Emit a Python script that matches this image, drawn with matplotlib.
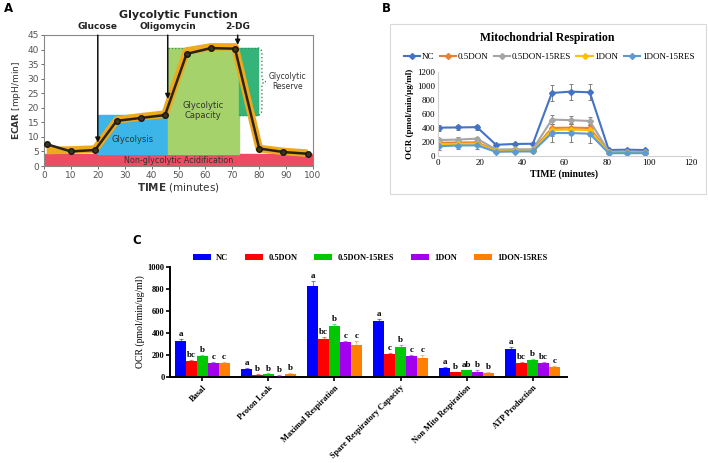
import numpy as np
import matplotlib
matplotlib.use('Agg')
import matplotlib.pyplot as plt
from matplotlib.patches import Rectangle
from matplotlib.path import Path
from matplotlib.patches import PathPatch
from matplotlib.lines import Line2D

# ---------------- data ----------------
# A: glycolytic function (schematic)
a_time = [1, 10, 19, 27, 36, 45, 53, 62, 71, 80, 89, 98]
a_ecar = [7.5, 5.0, 5.5, 15.5, 16.5, 17.5, 38.5, 40.5, 40.3, 6.0, 4.8, 4.2]
a_trend = [5.3, 5.5, 5.8, 15.8, 16.9, 17.8, 39.5, 40.9, 40.9, 6.0, 5.0, 4.4]
a_injections = ['Glucose', 'Oligomycin', '2-DG']
a_inj_time = [20, 46, 72]
a_inj_tip = [8, 23, 41.6]

# B: mitochondrial respiration
b_time = [0.5, 9.5, 18.5, 27.5, 36.5, 45, 54, 63, 72, 81, 89.5, 98]
b_names = ['NC', '0.5DON', '0.5DON-15RES', '1DON', '1DON-15RES']
b_values = {
    'NC': [405, 408, 412, 160, 172, 175, 900, 920, 910, 85, 90, 85],
    '0.5DON': [190, 192, 196, 75, 80, 82, 400, 405, 400, 52, 52, 50],
    '0.5DON-15RES': [228, 235, 248, 92, 96, 96, 520, 512, 500, 62, 62, 60],
    '1DON': [168, 172, 178, 70, 74, 75, 372, 378, 370, 46, 46, 45],
    '1DON-15RES': [140, 150, 152, 60, 64, 65, 328, 328, 318, 40, 40, 40],
}
b_errors = {
    'NC': [45, 35, 35, 15, 15, 15, 120, 115, 115, 10, 10, 10],
    '0.5DON': [35, 35, 35, 15, 15, 15, 60, 60, 60, 10, 10, 10],
    '0.5DON-15RES': [30, 30, 30, 15, 15, 15, 65, 60, 55, 10, 10, 10],
    '1DON': [40, 40, 40, 15, 15, 15, 80, 80, 80, 10, 10, 10],
    '1DON-15RES': [55, 55, 50, 20, 20, 20, 130, 130, 130, 10, 10, 10],
}
b_colors = ['#4472C4', '#ED7D31', '#A5A5A5', '#FFC000', '#5B9BD5']

# C: respiration parameters
c_params = ['Basal', 'Proton Leak', 'Maximal Respiration',
            'Spare Respiratory Capacity', 'Non Mito Respiration', 'ATP Production']
c_groups = ['NC', '0.5DON', '0.5DON-15RES', '1DON', '1DON-15RES']
c_values = [
    [330, 75, 830, 505, 85, 255],
    [148, 20, 350, 205, 45, 128],
    [188, 28, 460, 270, 60, 155],
    [130, 12, 315, 190, 50, 128],
    [125, 30, 295, 175, 40, 92],
]
c_errors = [
    [12, 8, 45, 25, 10, 15],
    [8, 4, 18, 15, 5, 10],
    [15, 4, 25, 20, 5, 12],
    [10, 3, 10, 8, 15, 10],
    [10, 5, 35, 25, 5, 10],
]
c_letters = [
    ['a', 'a', 'a', 'a', 'a', 'a'],
    ['bc', 'b', 'bc', 'c', 'b', 'bc'],
    ['b', 'b', 'b', 'b', 'ab', 'b'],
    ['c', 'b', 'c', 'c', 'b', 'bc'],
    ['c', 'b', 'c', 'c', 'b', 'c'],
]
c_colors = ['#0000FF', '#FF0000', '#00C800', '#A400F0', '#FF8000']

SERIF = 'Liberation Serif'
W, H = 708, 463

fig = plt.figure(figsize=(7.08, 4.63), dpi=100)


def box(l, t, r, b):
    return [l / W, 1 - b / H, (r - l) / W, (b - t) / H]


# ---------------- panel A ----------------
axA = fig.add_axes(box(44, 35, 313, 166))
axA.set_xlim(0, 100)
axA.set_ylim(0, 45)
axA.add_patch(Rectangle((0, 0), 100, 4.2, color='#EE4B64', zorder=1))
axA.add_patch(Rectangle((20, 4.2), 26, 13.3, color='#3CB5E8', zorder=1))
axA.add_patch(Rectangle((46, 4.2), 26.5, 36.3, color='#A6D26B', zorder=1))
axA.add_patch(Rectangle((72.5, 17.5), 7, 23, color='#35B47A', zorder=1))
axA.plot([46, 79.5], [40.5, 40.5], ls=':', color='#2f8f5a', lw=0.9, zorder=2)
axA.plot([72.5, 79.5], [17.5, 17.5], ls=':', color='#2f8f5a', lw=0.9, zorder=2)
brace = Path([(79.5, 40.5), (81, 40.5), (81, 38.5), (81, 31),
              (81, 29), (82.5, 29), (81, 29), (81, 27), (81, 19.5),
              (81, 17.5), (79.5, 17.5)],
             [Path.MOVETO, Path.CURVE3, Path.CURVE3, Path.LINETO,
              Path.CURVE3, Path.CURVE3, Path.CURVE3, Path.CURVE3, Path.LINETO,
              Path.CURVE3, Path.CURVE3])
axA.add_patch(PathPatch(brace, fill=False, ls=':', lw=1.0, ec='#2f8f5a', zorder=2))
axA.plot(a_time, a_trend, color='#F0A81C', lw=5.5, solid_capstyle='butt', zorder=3)
axA.plot(a_time, a_ecar, color='#2a2212', lw=1.8, marker='o', ms=4,
         mfc='#3a3420', mec='#1a160c', zorder=4)
axA.text(33, 9, 'Glycolysis', ha='center', va='center', fontsize=6, color='#333333')
axA.text(59, 19, 'Glycolytic\nCapacity', ha='center', va='center', fontsize=6,
         color='#333333', linespacing=1.2)
axA.text(90.5, 29, 'Glycolytic\nReserve', ha='center', va='center', fontsize=5.5,
         color='#333333', linespacing=1.2)
axA.text(50, 2.0, 'Non-glycolytic Acidification', ha='center', va='center',
         fontsize=5.8, color='#333333')
for name, t, tip in zip(a_injections, a_inj_time, a_inj_tip):
    axA.annotate(name, xy=(t, tip), xytext=(t, 1.065),
                 textcoords=('data', 'axes fraction'), ha='center', va='center',
                 fontsize=6.5, fontweight='bold', color='#222222',
                 arrowprops=dict(arrowstyle='-|>', color='#111111', lw=1.1,
                                 mutation_scale=7, shrinkA=1, shrinkB=0),
                 zorder=5)
axA.set_xticks(np.arange(0, 101, 10))
axA.set_yticks(np.arange(0, 46, 5))
axA.tick_params(labelsize=6.5, colors='#555555', length=2, width=0.6, pad=1.5)
for s in axA.spines.values():
    s.set_color('#888888')
    s.set_linewidth(0.8)
axA.set_xlabel(r'$\mathbf{TIME}$ (minutes)', fontsize=7.5, color='#333333', labelpad=1)
axA.set_ylabel(r'$\mathbf{ECAR}$ [mpH/min]', fontsize=6.5, color='#333333', labelpad=3)
axA.set_title('Glycolytic Function', fontsize=8, fontweight='bold', color='#222222',
              pad=12)

# ---------------- panel B ----------------
fig.patches.append(Rectangle((390 / W, 1 - 194 / H), (706 - 390) / W, (194 - 24) / H,
                             transform=fig.transFigure, fill=False,
                             ec='#D9D9D9', lw=0.8))
axB = fig.add_axes(box(438, 72, 691, 156))
for name, col in zip(b_names, b_colors):
    axB.errorbar(b_time, b_values[name], yerr=b_errors[name], color=col, lw=1.5,
                 marker='D', ms=3, label=name, ecolor='#808080', elinewidth=0.7,
                 capsize=1.5, capthick=0.7)
axB.set_xlim(0, 120)
axB.set_ylim(0, 1200)
axB.set_xticks(np.arange(0, 121, 20))
axB.set_yticks(np.arange(0, 1201, 200))
axB.tick_params(labelsize=6.5, length=0, pad=2)
for lab in axB.get_xticklabels() + axB.get_yticklabels():
    lab.set_fontfamily(SERIF)
for s in ['top', 'right']:
    axB.spines[s].set_visible(False)
for s in ['left', 'bottom']:
    axB.spines[s].set_color('#D0D0D0')
    axB.spines[s].set_linewidth(0.8)
axB.set_xlabel('TIME (minutes)', fontsize=7, fontweight='bold', family=SERIF, labelpad=2)
axB.set_ylabel('OCR (pmol/min/µg/ml)', fontsize=6.5, fontweight='bold', family=SERIF,
               labelpad=2)
fig.text(547 / W, 1 - 38 / H, 'Mitochondrial Respiration', ha='center', va='center',
         fontsize=8.5, fontweight='bold', family=SERIF)
hB = [Line2D([], [], color=c, lw=1.5, marker='D', ms=3) for c in b_colors]
fig.legend(hB, b_names, loc='center', bbox_to_anchor=(549 / W, 1 - 57 / H), ncol=5,
           frameon=False, prop={'family': SERIF, 'size': 6.5},
           handlelength=1.8, handletextpad=0.2, columnspacing=0.6)

# ---------------- panel C ----------------
axC = fig.add_axes(box(170, 267, 567, 377))
x = np.arange(len(c_params))
bw = 0.165
for i, (grp, col) in enumerate(zip(c_groups, c_colors)):
    pos = x + (i - 2) * bw
    vals = np.array(c_values[i])
    errs = np.array(c_errors[i])
    axC.bar(pos, vals, width=bw, color=col, label=grp, zorder=2)
    axC.errorbar(pos, vals, yerr=[np.zeros_like(errs), errs], fmt='none',
                 ecolor=col, alpha=0.5, elinewidth=0.8, capsize=1.5, capthick=0.8,
                 zorder=3)
    for p, v, e, t in zip(pos, vals, errs, c_letters[i]):
        axC.text(p, v + e + 8, t, ha='center', va='bottom', fontsize=6.5,
                 fontweight='bold', family=SERIF)
axC.set_xlim(-0.49, 5.52)
axC.set_ylim(0, 1000)
axC.set_yticks(np.arange(0, 1001, 200))
axC.set_xticks(x)
axC.set_xticklabels(c_params, rotation=45, ha='right', rotation_mode='anchor',
                    fontsize=6, fontweight='bold', family=SERIF)
for lab in axC.get_yticklabels():
    lab.set_fontfamily(SERIF)
    lab.set_fontweight('bold')
axC.tick_params(axis='y', labelsize=6, length=3, width=1.2, pad=1)
axC.tick_params(axis='x', length=3, width=1.2, pad=2)
for s in ['top', 'right']:
    axC.spines[s].set_visible(False)
for s in ['left', 'bottom']:
    axC.spines[s].set_linewidth(1.4)
axC.set_ylabel('OCR (pmol/min/ug/ml)', fontsize=7, family=SERIF, labelpad=2)
hC, lC = axC.get_legend_handles_labels()
fig.legend(hC, lC, loc='center', bbox_to_anchor=(370 / W, 1 - 258 / H), ncol=5,
           frameon=False, prop={'family': SERIF, 'size': 6, 'weight': 'bold'},
           handlelength=2.2, handleheight=0.6, handletextpad=0.6, columnspacing=2.0)

# panel letters
for lbl, px, py in [('A', 8, 8), ('B', 386, 8), ('C', 137, 240)]:
    fig.text(px / W, 1 - py / H, lbl, ha='center', va='center', fontsize=8.5,
             fontweight='bold')

fig.savefig('out.png', dpi=100)
